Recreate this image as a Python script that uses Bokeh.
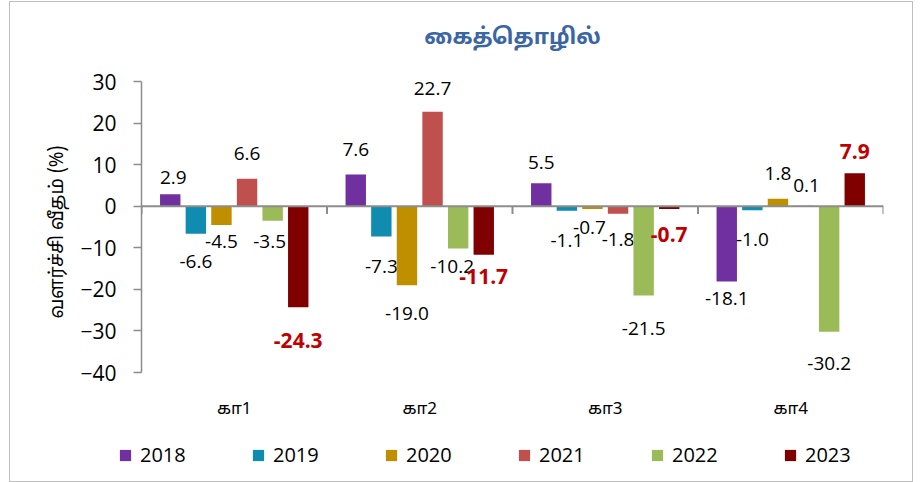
from bokeh.plotting import figure
from bokeh.layouts import column, row
from bokeh.models import ColumnDataSource, Range1d, FixedTicker, Legend, LegendItem, Span
from bokeh.core.properties import value
from bokeh.embed import file_html
from bokeh.resources import INLINE

# ---------------- data ----------------
categories = ["கா1", "கா2", "கா3", "கா4"]
years = ["2018", "2019", "2020", "2021", "2022", "2023"]
v2018 = [2.9, 7.6, 5.5, -18.1]
v2019 = [-6.6, -7.3, -1.1, -1.0]
v2020 = [-4.5, -19.0, -0.7, 1.8]
v2021 = [6.6, 22.7, -1.8, 0.1]
v2022 = [-3.5, -10.2, -21.5, -30.2]
v2023 = [-24.3, -11.7, -0.7, 7.9]
y_ticks = [-40, -30, -20, -10, 0, 10, 20, 30]
title_text = "கைத்தொழில்"
y_label = "வளர்ச்சி  வீதம்  (%)"

series = [v2018, v2019, v2020, v2021, v2022, v2023]

# ---------------- styles ----------------
colors = ["#7030A0", "#0F8CB0", "#BF8F00", "#C0504D", "#9BBB59", "#800000"]
label_colors = ["#000000"] * 5 + ["#C00000"]
label_weights = ["normal"] * 5 + ["bold"]
label_sizes = ["19px"] * 5 + ["21px"]
# label nudges in pixels (dx right, dy down from bar end), per series per category
label_dx = [[3, 0, 0, 0], [0, 0, 0, 0], [0, 0, -3, 0], [0, 0, 0, 3], [-3, -6, 0, 0], [0, 0, 0, 0]]
label_dy = [[-17, -25, -21, 17], [28, 30, 30, 29], [17, 28, 18, -25],
            [-25, -23, 26, -20], [21, 18, 33, 32], [33, 22, 25, -22]]
bar_step = 0.138
bar_width = 0.11
tamil_font = "'Noto Sans Tamil', 'Lohit Tamil', 'Noto Sans', sans-serif"
num_font = "'Open Sans'"
axis_grey = "#8C8C8C"
border_l, border_r = 131, 29


def bare(fig):
    fig.outline_line_color = None
    fig.xgrid.visible = False
    fig.ygrid.visible = False
    fig.background_fill_color = "white"
    fig.border_fill_color = "white"
    fig.title.text = ""
    fig.title.standoff = 0


# ---------------- title strip ----------------
tf = figure(width=902, height=60, output_backend="svg", toolbar_location=None,
            x_range=Range1d(0, 1), y_range=Range1d(0, 1),
            x_axis_location=None, y_axis_location=None,
            min_border_left=border_l, min_border_right=border_r,
            min_border_top=0, min_border_bottom=0)
bare(tf)
tf.text(x=[0.5], y=[0.4], text=[title_text], text_align="center", text_baseline="middle",
        text_font=value(tamil_font), text_font_size="22px", text_font_style="bold",
        text_color="#3A66A4")

# ---------------- main chart ----------------
p = figure(width=902, height=370, output_backend="svg", toolbar_location=None,
           x_range=Range1d(0, len(categories)), y_range=Range1d(y_ticks[0], y_ticks[-1]),
           min_border_left=border_l, min_border_right=border_r, min_border_top=19,
           min_border_bottom=60)
bare(p)

# zero line and category boundary ticks
p.add_layout(Span(location=0, dimension="width", line_color=axis_grey, line_width=2))
bounds = list(range(len(categories) + 1))
p.segment(x0=bounds, y0=[0] * len(bounds), x1=bounds, y1=[-1.9] * len(bounds),
          line_color=axis_grey, line_width=2)

for j, (yr, vals) in enumerate(zip(years, series)):
    off = (j - (len(years) - 1) / 2) * bar_step
    xs = [i + 0.5 + off for i in range(len(categories))]
    src = ColumnDataSource(dict(x=xs, top=vals,
                                lbl=[f"{v:.1f}" for v in vals],
                                dx=label_dx[j],
                                dy=label_dy[j]))
    p.vbar(x="x", top="top", bottom=0, width=bar_width, source=src,
           fill_color=colors[j], line_color=None)
    p.text(x="x", y="top", text="lbl", source=src, x_offset="dx", y_offset="dy",
           text_align="center", text_baseline="middle", text_color=label_colors[j],
           text_font=value(num_font), text_font_size=label_sizes[j],
           text_font_style=label_weights[j])

# axes
p.yaxis.ticker = FixedTicker(ticks=y_ticks)
p.yaxis.axis_line_color = axis_grey
p.yaxis.axis_line_width = 1.5
p.yaxis.major_tick_line_color = axis_grey
p.yaxis.major_tick_line_width = 1.5
p.yaxis.major_tick_out = 8
p.yaxis.major_tick_in = 0
p.yaxis.minor_tick_line_color = None
p.yaxis.major_label_text_font = num_font
p.yaxis.major_label_text_font_size = "21px"
p.yaxis.major_label_text_color = "#000000"
p.yaxis.major_label_standoff = 17
p.yaxis.axis_label = y_label
p.yaxis.axis_label_text_font = tamil_font
p.yaxis.axis_label_text_font_size = "19px"
p.yaxis.axis_label_text_font_style = "normal"
p.yaxis.axis_label_text_color = "#000000"
p.yaxis.axis_label_standoff = 7

p.xaxis.ticker = FixedTicker(ticks=[i + 0.5 for i in range(len(categories))])
p.xaxis.major_label_overrides = {i + 0.5: c for i, c in enumerate(categories)}
p.xaxis.axis_line_color = None
p.xaxis.major_tick_line_color = None
p.xaxis.minor_tick_line_color = None
p.xaxis.major_label_text_font = tamil_font
p.xaxis.major_label_text_font_size = "17px"
p.xaxis.major_label_text_color = "#000000"
p.xaxis.major_label_standoff = 20

# ---------------- legend strip (separate figure below the chart) ----------------
lf = figure(width=902, height=49, output_backend="svg", toolbar_location=None,
            x_range=Range1d(0, 1), y_range=Range1d(0, 1),
            x_axis_location=None, y_axis_location=None,
            min_border_left=0, min_border_right=0,
            min_border_top=0, min_border_bottom=0)
bare(lf)
items = []
for j, yr in enumerate(years):
    # placeholder renderer (zero-height, outside the visible range) that only carries the legend colour
    r = lf.vbar(x=[-1], top=[0], bottom=[0], width=0.1, fill_color=colors[j], line_color=None)
    items.append(LegendItem(label=yr, renderers=[r]))
legend = Legend(items=items, orientation="horizontal", location=(108, 13),
                glyph_width=14, glyph_height=14, label_standoff=8, label_width=50,
                spacing=61, padding=0, margin=0, border_line_color=None,
                background_fill_alpha=0, label_text_font=num_font,
                label_text_font_size="20px", label_text_color="#000000")
lf.add_layout(legend)

layout = column(tf, p, row(lf), spacing=0,
                styles={"border": "1px solid #BFBFBF", "margin-left": "9px",
                        "margin-top": "1px", "background": "white"})

open("out.html", "w").write(file_html(layout, INLINE))
